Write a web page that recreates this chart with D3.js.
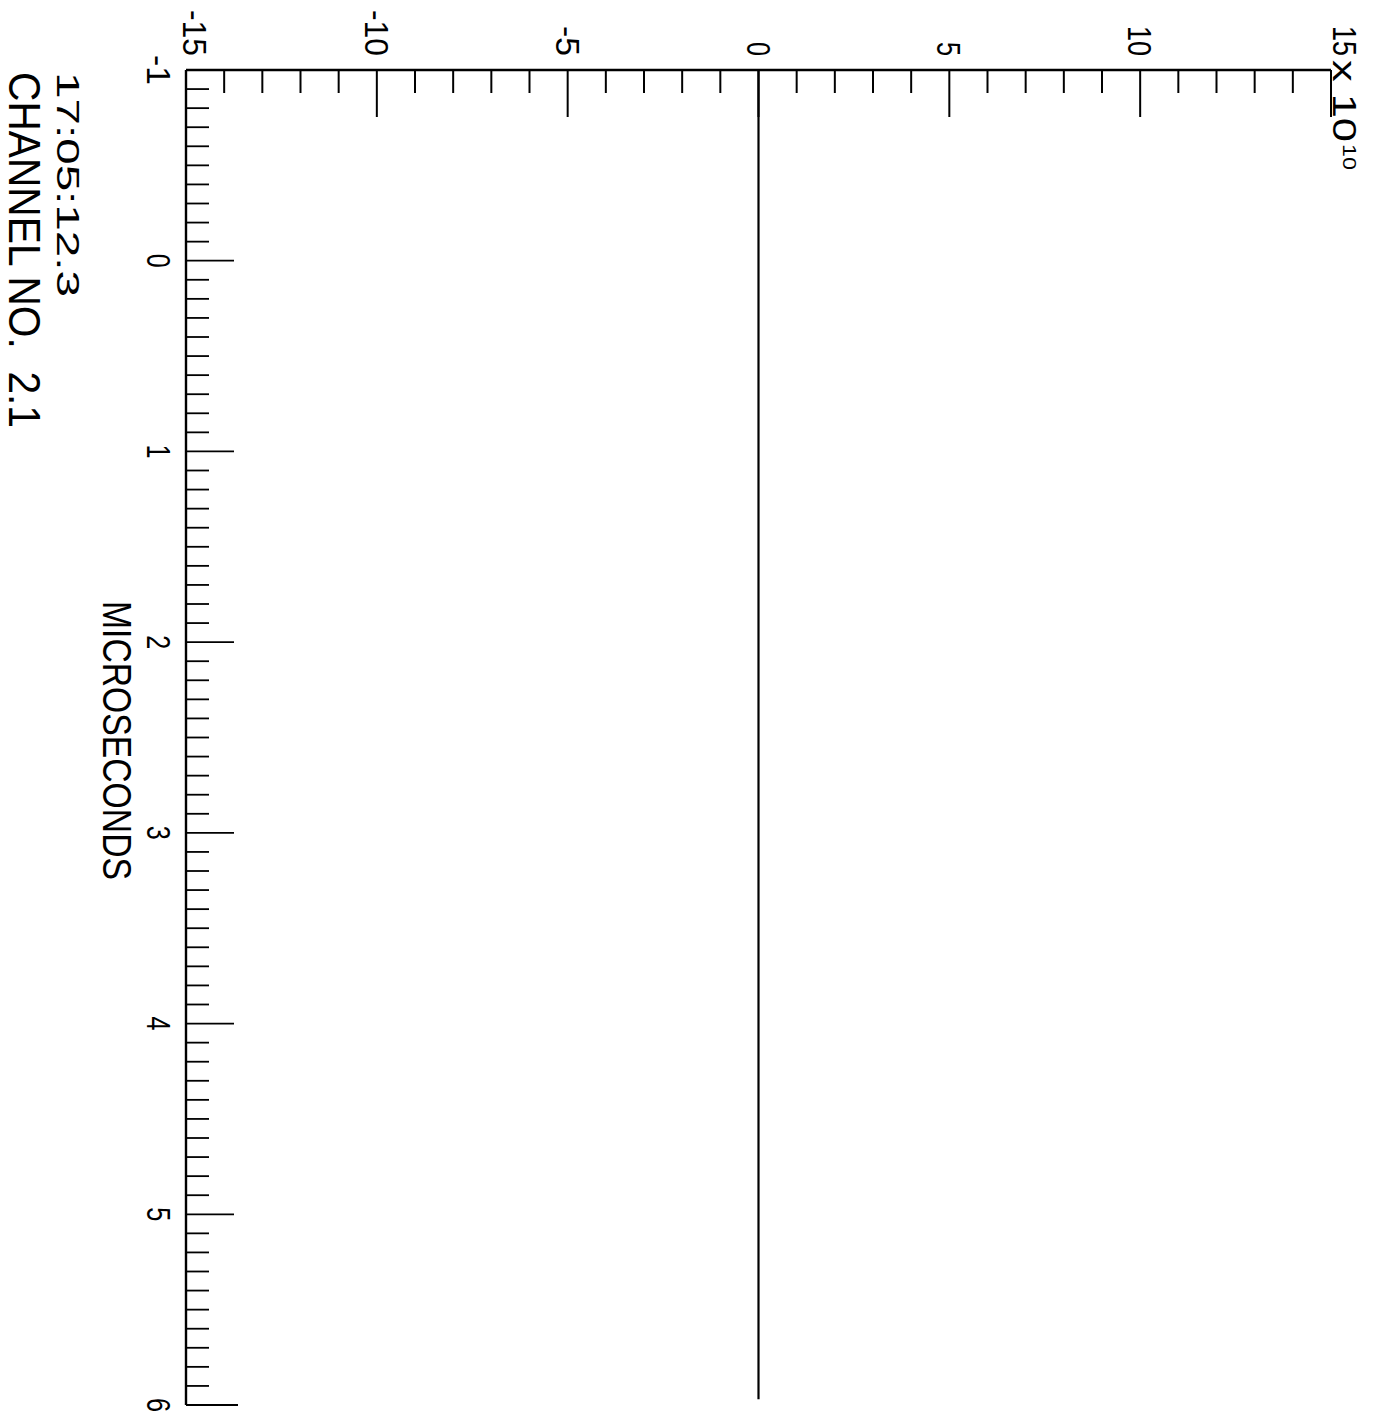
<!DOCTYPE html>
<html>
<head>
<meta charset="utf-8">
<script src="https://cdn.jsdelivr.net/npm/d3@7"></script>
<style>
  html, body { margin: 0; padding: 0; background: #fff; }
  svg { display: block; }
  text { font-family: "Liberation Sans", Arial, sans-serif; fill: #000; white-space: pre; }
</style>
</head>
<body>
<svg id="chart" width="1376" height="1416"></svg>
<script>
// ---- data ----
const valueDomain = [-15, 15];          // x 10^10
const timeDomain = [-1, 6];             // microseconds
const valueTickLabels = [-15, -10, -5, 0, 5, 10, 15];
const timeTickLabels = [-1, 0, 1, 2, 3, 4, 5, 6];
const seriesTime  = [-1, 0, 1, 2, 3, 4, 5, 5.97];
const seriesValue = [0, 0, 0, 0, 0, 0, 0, 0];
const timeLabel = "MICROSECONDS";
const stampLine1 = "17:05:12.3";
const stampLine2 = "CHANNEL NO.\u00A0 2.1";
const exponentBase = "x 10";
const exponentPower = "10";

// ---- drawing ----
const svg = d3.select("#chart");
const x = d3.scaleLinear().domain(valueDomain).range([186, 1331]);
const y = d3.scaleLinear().domain(timeDomain).range([70, 1405]);

const g = svg.append("g").attr("stroke", "#000").attr("fill", "none");

// axis lines
g.append("line").attr("x1", x(-15)).attr("x2", x(15)).attr("y1", y(-1)).attr("y2", y(-1)).attr("stroke-width", 2.4);
g.append("line").attr("x1", x(-15)).attr("x2", x(-15)).attr("y1", y(-1)).attr("y2", y(6)).attr("stroke-width", 2.4);

// top (value) axis ticks: every 1 unit
const vMinor = d3.range(-14, 16, 1);
g.selectAll("line.vt").data(vMinor).join("line")
  .attr("x1", d => x(d)).attr("x2", d => x(d))
  .attr("y1", y(-1))
  .attr("y2", d => y(-1) + (d % 5 === 0 ? 47 : 23))
  .attr("stroke-width", 2);

// left (time) axis ticks: every 0.1 us
const tMinor = d3.range(-9, 61, 1).map(i => i / 10);
g.selectAll("line.tt").data(tMinor).join("line")
  .attr("y1", d => y(d)).attr("y2", d => y(d))
  .attr("x1", x(-15))
  .attr("x2", d => x(-15) + (Math.abs(d - Math.round(d)) < 1e-9 ? (d === 6 ? 52 : 48) : 23))
  .attr("stroke-width", 1.8);

// data line
const line = d3.line().x(d => x(d[1])).y(d => y(d[0]));
g.append("path")
  .datum(seriesTime.map((t, i) => [t, seriesValue[i]]))
  .attr("d", line)
  .attr("stroke-width", 2.2);

// rotated text helper
function rtext(bx, by, str, size, len, anchor) {
  const t = svg.append("text")
    .attr("transform", `translate(${bx},${by}) rotate(90)`)
    .attr("font-size", size)
    .attr("text-anchor", anchor)
    .text(str);
  if (len) t.attr("textLength", len).attr("lengthAdjust", "spacingAndGlyphs");
  return t;
}
const lenFor = s => String(s).length * 16 - 2;

// value tick labels
valueTickLabels.forEach(v => {
  const bx = v === 15 ? x(v) + 2 : (v === -15 ? x(v) - 3 : x(v) - 12);
  rtext(bx, 56, String(v), 33, lenFor(v), "end");
});
// exponent
rtext(x(15) + 2, 60, exponentBase, 33, 82, "start");
rtext(x(15) + 12, 144, exponentPower, 18, 26, "start");

// time tick labels
timeTickLabels.forEach(t => {
  rtext(147, y(t), String(t), 33, lenFor(t), "middle");
});

// axis title and stamps
rtext(103, (y(-1) + y(6)) / 2 + 3, timeLabel, 40, 279, "middle");
rtext(57, 72, stampLine1, 32, 225, "start");
rtext(9, 72, stampLine2, 44, 356, "start");
</script>
</body>
</html>
